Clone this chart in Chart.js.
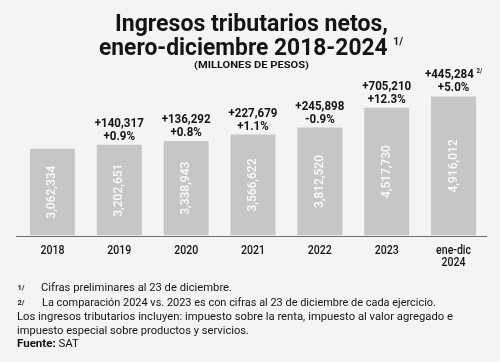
<!DOCTYPE html>
<html>
<head>
<meta charset="utf-8">
<script src="https://cdn.jsdelivr.net/npm/chart.js@4.4.1/dist/chart.umd.min.js"></script>
<style>
  html,body{margin:0;padding:0;}
  body{width:500px;height:362px;overflow:hidden;position:relative;background:#f4f4f4;font-family:Roboto,"Noto Sans",sans-serif;color:#141414;}
  #c{position:absolute;left:0;top:0;}
  .fit{position:absolute;white-space:nowrap;transform-origin:left top;}
  .title{font-weight:700;font-size:23px;line-height:23px;}
  .sub{font-weight:700;font-size:9.5px;line-height:9.5px;}
  .note{font-size:11.8px;line-height:11.8px;}
  sup{font-size:0.45em;font-weight:700;vertical-align:0;position:relative;top:-0.95em;}
  .nsup{position:absolute;font-size:7.5px;font-weight:700;line-height:7.5px;}
</style>
</head>
<body>
<canvas id="c" width="500" height="362"></canvas>

<div class="fit title" data-x="115" data-w="273" style="top:12px">Ingresos tributarios netos,</div>
<div class="fit title" data-x="99" data-w="304" style="top:35.5px">enero-diciembre 2018-2024 <sup>1/</sup></div>
<div class="fit sub" data-x="193.5" data-w="115" style="top:59.5px">(MILLONES DE PESOS)</div>

<div class="nsup" style="left:17.5px;top:284px">1/</div>
<div class="fit note" data-x="40.7" data-w="191" style="top:282px">Cifras preliminares al 23 de diciembre.</div>
<div class="nsup" style="left:17.5px;top:299px">2/</div>
<div class="fit note" data-x="42.3" data-w="394" style="top:297px">La comparación 2024 vs. 2023 es con cifras al 23 de diciembre de cada ejercicio.</div>
<div class="fit note" data-x="17" data-w="436" style="top:311px">Los ingresos tributarios incluyen: impuesto sobre la renta, impuesto al valor agregado e</div>
<div class="fit note" data-x="17" data-w="232" style="top:325px">impuesto especial sobre productos y servicios.</div>
<div class="fit note" data-x="17" data-w="62" style="top:337.5px"><b>Fuente:</b> SAT</div>

<script>
// ---- data ----
const categories = ['2018', '2019', '2020', '2021', '2022', '2023', ['ene-dic', '2024']];
const values = [3062334, 3202651, 3338943, 3566622, 3812520, 4517730, 4916012];
const changeAbs = [null, '+140,317', '+136,292', '+227,679', '+245,898', '+705,210', '+445,284'];
const changePct = [null, '+0.9%', '+0.8%', '+1.1%', '-0.9%', '+12.3%', '+5.0%'];
const changeNote = [null, null, null, null, null, null, '2/'];
const yMin = 0;
const yMax = 5000000;

// ---- fit HTML text lines ----
document.querySelectorAll('.fit').forEach(el => {
  const w = el.getBoundingClientRect().width;
  const target = parseFloat(el.dataset.w);
  el.style.left = el.dataset.x + 'px';
  el.style.transform = 'scaleX(' + (target / w) + ')';
});

const fmt = v => v.toLocaleString('en-US');

const labelPlugin = {
  id: 'labels',
  afterDatasetsDraw(chart) {
    const ctx = chart.ctx;
    const meta = chart.getDatasetMeta(0);
    ctx.save();
    ctx.font = '500 12px Roboto';
    const sxIn = 53 / ctx.measureText('3,062,334').width;
    ctx.font = 'bold 13px Roboto';
    const sxTop = 49 / ctx.measureText('+245,898').width;
    ctx.font = '500 13.5px Roboto';
    const sxTick = 24 / ctx.measureText('2018').width;
    ctx.restore();

    meta.data.forEach((bar, i) => {
      const x = bar.x, top = bar.y, base = bar.base;
      // value inside bar (rotated)
      ctx.save();
      ctx.translate(x, (top + base) / 2);
      ctx.rotate(-Math.PI / 2);
      ctx.scale(sxIn, 1);
      ctx.font = '500 12px Roboto';
      ctx.fillStyle = 'rgba(255,255,255,0.93)';
      ctx.textAlign = 'center';
      ctx.textBaseline = 'middle';
      ctx.fillText(fmt(values[i]), 0, 0);
      ctx.restore();

      // change labels above bar
      if (changeAbs[i]) {
        ctx.save();
        ctx.fillStyle = '#141414';
        ctx.textBaseline = 'alphabetic';
        ctx.font = 'bold 13px Roboto';
        const w1 = ctx.measureText(changeAbs[i]).width * sxTop;
        let supW = 0;
        if (changeNote[i]) {
          ctx.font = 'bold 7px Roboto';
          supW = ctx.measureText(changeNote[i]).width * sxTop + 2.5;
        }
        const startX = x - (w1 + supW) / 2;
        ctx.save();
        ctx.translate(startX, top - 18);
        ctx.scale(sxTop, 1);
        ctx.font = 'bold 13px Roboto';
        ctx.textAlign = 'left';
        ctx.fillText(changeAbs[i], 0, 0);
        ctx.restore();
        if (changeNote[i]) {
          ctx.save();
          ctx.translate(startX + w1 + 2.5, top - 23.5);
          ctx.scale(sxTop, 1);
          ctx.font = 'bold 7px Roboto';
          ctx.textAlign = 'left';
          ctx.fillText(changeNote[i], 0, 0);
          ctx.restore();
        }
        ctx.save();
        ctx.translate(x, top - 5);
        ctx.scale(sxTop, 1);
        ctx.font = 'bold 13px Roboto';
        ctx.textAlign = 'center';
        ctx.fillText(changePct[i], 0, 0);
        ctx.restore();
        ctx.restore();
      }
    });

    // category labels, placed by the x scale
    const xs = chart.scales.x;
    const a = chart.chartArea;
    xs.ticks.forEach((t, i) => {
      const px = xs.getPixelForTick(i);
      const lbl = chart.data.labels[t.value];
      const lines = Array.isArray(lbl) ? lbl : [lbl];
      lines.forEach((ln, j) => {
        ctx.save();
        ctx.translate(px, a.bottom + 15.5 + j * 11.8);
        ctx.scale(sxTick, 1);
        ctx.font = '500 13.5px Roboto';
        ctx.fillStyle = '#141414';
        ctx.textAlign = 'center';
        ctx.textBaseline = 'middle';
        ctx.fillText(ln, 0, 0);
        ctx.restore();
      });
    });

    // baseline
    ctx.save();
    ctx.strokeStyle = '#707070';
    ctx.lineWidth = 1;
    ctx.beginPath();
    ctx.moveTo(a.left - 3, Math.round(a.bottom) + 0.5);
    ctx.lineTo(a.right, Math.round(a.bottom) + 0.5);
    ctx.stroke();
    ctx.restore();
  }
};

new Chart(document.getElementById('c'), {
  type: 'bar',
  data: {
    labels: categories,
    datasets: [{
      data: values,
      backgroundColor: '#c6c6c6',
      borderWidth: 0,
      barPercentage: 0.673,
      categoryPercentage: 1
    }]
  },
  options: {
    responsive: false,
    animation: false,
    devicePixelRatio: 1,
    layout: { padding: { left: 19, right: 13, top: 94, bottom: 126.5 } },
    plugins: { legend: { display: false }, tooltip: { enabled: false }, title: { display: false } },
    scales: {
      y: { display: false, min: yMin, max: yMax },
      x: {
        grid: { display: false, drawTicks: false },
        border: { display: false },
        ticks: { display: false }
      }
    }
  },
  plugins: [labelPlugin]
});
</script>
</body>
</html>
